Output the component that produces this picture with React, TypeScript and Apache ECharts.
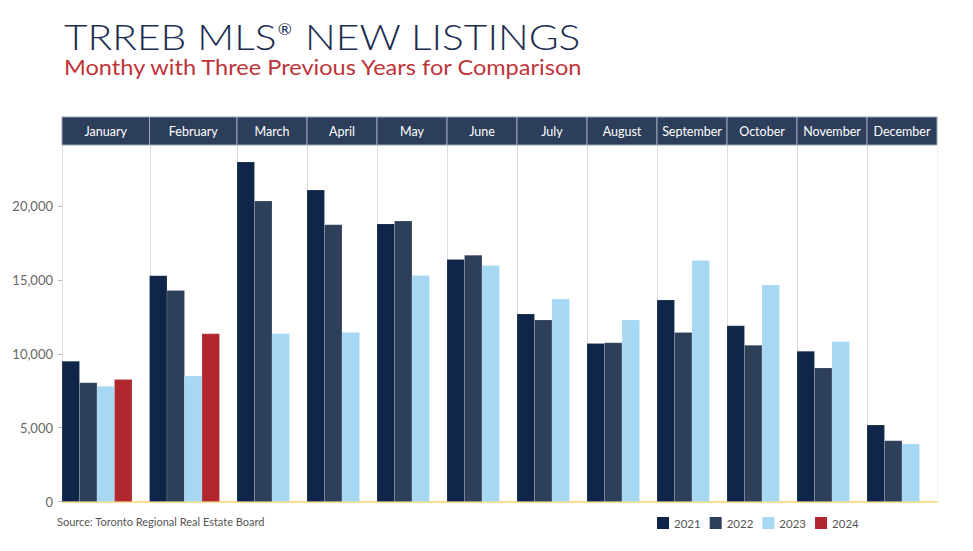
import React, { useEffect, useRef } from "react";
import * as echarts from "echarts";

const months = ["January", "February", "March", "April", "May", "June", "July", "August", "September", "October", "November", "December"];
const years = ["2021", "2022", "2023", "2024"];
const v2021 = [9500, 15300, 23000, 21100, 18800, 16400, 12700, 10700, 13650, 11900, 10170, 5180];
const v2022 = [8050, 14300, 20350, 18750, 19000, 16680, 12300, 10750, 11450, 10580, 9040, 4120];
const v2023 = [7800, 8500, 11360, 11450, 15310, 15990, 13710, 12290, 16330, 14660, 10820, 3890];
const v2024: (number | null)[] = [8270, 11360, null, null, null, null, null, null, null, null, null, null];
const yTicks = [0, 5000, 10000, 15000, 20000];
const yMax = 24150;

const colors = ["#0f2649", "#2e3f5a", "#a6d7f3", "#b0282e"];
const allSeries = [v2021, v2022, v2023, v2024];

export default function App() {
  const ref = useRef<HTMLDivElement>(null);
  useEffect(() => {
    if (!ref.current) return;
    const chart = echarts.init(ref.current, null, { renderer: "svg" });

    // slot layout: each month gets one slot per available year plus a gap slot
    const starts: number[] = [];
    const ends: number[] = [];
    let acc = 0;
    months.forEach((_, i) => {
      const n = allSeries.filter((s) => s[i] != null).length;
      starts.push(acc);
      acc += n + 1;
      ends.push(acc);
    });
    const totalSlots = acc;

    const barSeries = years.map((y, j) => ({
      name: y,
      type: "custom",
      z: 3,
      itemStyle: { color: colors[j] },
      data: months
        .map((_, i) => (allSeries[j][i] == null ? null : [starts[i] + j, allSeries[j][i]]))
        .filter((d) => d != null),
      renderItem: (params: any, api: any) => {
        const x0 = api.value(0);
        const v = api.value(1);
        const p0 = api.coord([x0, v]);
        const p1 = api.coord([x0 + 1, 0]);
        return {
          type: "rect",
          shape: { x: p0[0], y: p0[1], width: p1[0] - p0[0], height: p1[1] - p0[1] },
          style: { fill: colors[j], stroke: "rgba(255,255,255,0.25)", lineWidth: 0.6 },
        };
      },
    }));

    const dividerSeries = {
      name: "dividers",
      type: "custom",
      z: 1,
      silent: true,
      data: [...starts, totalSlots].map((b) => [b]),
      renderItem: (params: any, api: any) => {
        const b = api.value(0);
        const top = api.coord([b, yMax]);
        const bot = api.coord([b, 0]);
        return {
          type: "line",
          shape: { x1: Math.round(top[0]) + 0.5, y1: top[1], x2: Math.round(bot[0]) + 0.5, y2: bot[1] },
          style: { stroke: b === totalSlots ? "#f0f0f0" : "#dcdcdc", lineWidth: 1 },
        };
      },
    };

    const headerSeries = {
      name: "header",
      type: "custom",
      z: 4,
      silent: true,
      clip: false,
      data: months.map((m, i) => [starts[i], ends[i], i]),
      renderItem: (params: any, api: any) => {
        const a = api.coord([api.value(0), yMax]);
        const b = api.coord([api.value(1), yMax]);
        const i = api.value(2);
        const h = 28;
        return {
          type: "group",
          children: [
            {
              type: "rect",
              shape: { x: a[0], y: a[1] - h, width: b[0] - a[0], height: h },
              style: { fill: "#2d3e5b", stroke: "#9aa5b6", lineWidth: 1 },
            },
            {
              type: "text",
              x: (a[0] + b[0]) / 2,
              y: a[1] - h / 2,
              style: {
                text: months[i],
                fill: "#ffffff",
                fontSize: 12.5,
                fontFamily: "Lato, 'Open Sans', sans-serif",
                align: "center",
                verticalAlign: "middle",
              },
            },
          ],
        };
      },
    };

    chart.setOption({
      animation: false,
      grid: { left: 62, right: 36, top: 145, bottom: 49.5 },
      xAxis: {
        type: "value",
        min: 0,
        max: totalSlots,
        axisLine: { show: true, lineStyle: { color: "#f9d36a", width: 1.5 } },
        axisTick: { show: false },
        axisLabel: { show: false },
        splitLine: { show: false },
      },
      yAxis: {
        type: "value",
        min: 0,
        max: yMax,
        axisLine: { show: false },
        axisTick: { show: true, length: 4, lineStyle: { color: "#bbbbbb" }, customValues: yTicks },
        axisLabel: {
          customValues: yTicks,
          color: "#666666",
          fontSize: 13,
          margin: 9,
          fontFamily: "Lato, 'Open Sans', sans-serif",
          formatter: (v: number) => v.toLocaleString("en-US"),
        },
        splitLine: { show: false },
      },
      legend: {
        data: years,
        left: 652,
        top: 512,
        icon: "rect",
        itemWidth: 12,
        itemHeight: 12,
        itemGap: 9,
        textStyle: { color: "#555555", fontSize: 11.5, fontFamily: "Lato, 'Open Sans', sans-serif" },
      },
      graphic: [
        {
          type: "text",
          x: 64,
          y: 18,
          scaleX: 1.13,
          style: {
            text: "TRREB MLS{sup|®} NEW LISTINGS",
            fill: "#1b2d50",
            fontSize: 36,
            lineHeight: 36,
            fontWeight: 300,
            fontFamily: "Lato, 'Open Sans', sans-serif",
            rich: {
              sup: {
                fontSize: 15,
                lineHeight: 36,
                verticalAlign: "top",
                padding: [3, 2, 0, 1],
                fill: "#1b2d50",
                fontFamily: "Lato, 'Open Sans', sans-serif",
              },
            },
          },
        },
        {
          type: "text",
          x: 64,
          y: 56,
          scaleX: 1.15,
          style: {
            text: "Monthy with Three Previous Years for Comparison",
            fill: "#c0353a",
            fontSize: 20.5,
            lineHeight: 22,
            fontFamily: "Lato, 'Open Sans', sans-serif",
          },
        },
        {
          type: "text",
          left: 57,
          top: 516,
          style: {
            text: "Source: Toronto Regional Real Estate Board",
            fill: "#555555",
            fontSize: 11,
            fontFamily: "Lato, 'Open Sans', sans-serif",
          },
        },
      ],
      series: [dividerSeries, ...barSeries, headerSeries],
    });
    return () => chart.dispose();
  }, []);
  return <div ref={ref} style={{ width: 973, height: 551, position: "absolute", left: 0, top: 0 }} />;
}
